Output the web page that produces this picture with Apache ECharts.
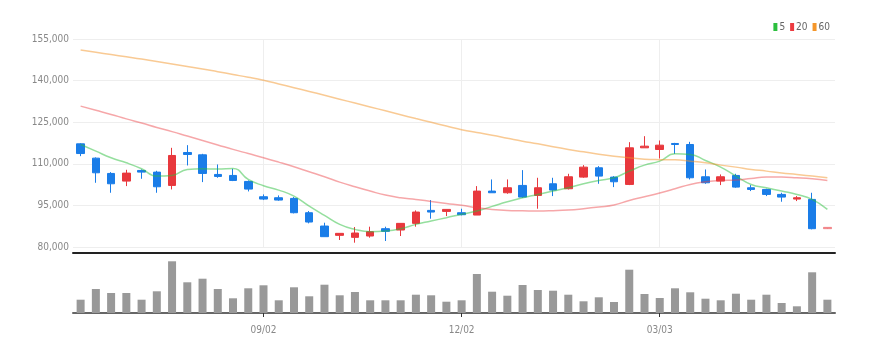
<!DOCTYPE html>
<html>
<head>
<meta charset="utf-8">
<title>stock chart</title>
<script src="https://cdn.jsdelivr.net/npm/echarts@6/dist/echarts.min.js"></script>
<style>
  html, body { margin: 0; padding: 0; background: #fff; }
  #chart { width: 881px; height: 353px; }
</style>
</head>
<body>
<div id="chart"></div>
<script>
// 주간 날짜
var dates = [
  '06/10', '06/17', '06/24', '07/01', '07/08', '07/15', '07/22', '07/29', '08/05', '08/12',
  '08/19', '08/26', '09/02', '09/09', '09/16', '09/23', '09/30', '10/07', '10/14', '10/21',
  '10/28', '11/04', '11/11', '11/18', '11/25', '12/02', '12/09', '12/16', '12/23', '12/30',
  '01/06', '01/13', '01/20', '01/27', '02/03', '02/10', '02/17', '02/24', '03/03', '03/10',
  '03/17', '03/24', '03/31', '04/07', '04/14', '04/21', '04/28', '05/05', '05/12', '05/19'
]

// [시가, 종가, 저가, 고가]
var candles = [
  [117200, 113700, 112760, 117400], [112040, 106760, 103160, 112300], [106520, 102800, 99560, 107000],
  [103760, 106640, 101960, 107840], [107600, 107000, 104600, 107960], [107000, 101720, 99560, 107480],
  [102200, 113000, 100760, 115760], [114080, 113360, 109400, 116720], [113240, 106520, 103400, 113600],
  [106160, 105440, 104960, 109760], [105800, 104000, 103760, 108200], [103640, 100880, 100040, 104000],
  [98120, 97280, 96920, 98960], [97760, 96920, 96680, 98600], [97520, 92360, 92120, 98000],
  [92360, 89000, 88520, 92960], [87560, 83720, 83720, 88760], [84200, 84920, 82520, 84920],
  [83480, 85040, 81560, 87200], [83960, 85520, 83360, 87320], [86600, 85640, 82160, 87320],
  [86120, 88520, 83960, 88520], [88520, 92600, 87320, 93200], [93200, 92600, 90200, 96920],
  [92840, 93560, 91160, 93560], [92360, 91640, 91400, 93800], [91520, 100160, 91520, 101960],
  [100160, 99560, 99560, 104360], [99560, 101360, 99200, 104360], [102200, 98000, 97760, 107720],
  [98600, 101360, 93800, 104960], [102800, 100520, 98360, 104960], [101000, 105320, 100760, 106400],
  [105200, 108800, 104960, 109520], [108560, 105560, 102800, 109160], [105200, 103520, 101600, 105560],
  [102560, 115760, 102320, 117800], [115760, 116360, 115760, 119960], [115160, 116720, 111920, 118400],
  [117320, 116960, 113600, 117560], [116960, 104960, 104360, 117920], [105320, 103160, 102800, 107960],
  [103760, 105320, 102320, 106160], [105800, 101600, 101360, 106400], [101360, 100760, 100160, 102320],
  [100760, 98960, 98360, 101000], [98960, 98000, 96320, 99560], [97280, 97760, 96560, 98360],
  [97160, 86600, 86360, 99560], [86600, 87080, 86480, 87080]
]

// 거래량 (천주)
var volumes = [
  133, 240, 200, 200, 133, 217, 517, 307, 343, 240,
  147, 247, 277, 127, 257, 167, 283, 177, 210, 127,
  127, 127, 183, 177, 113, 127, 390, 213, 173, 280,
  230, 223, 183, 117, 157, 110, 433, 190, 150, 247,
  207, 143, 127, 193, 133, 183, 100, 67, 407, 133
]

// 이동평균선
var ma5 = [
  116960, 114560, 112160, 110360, 108200, 105560, 105800, 107960, 108200, 108080,
  108320, 104360, 102100, 100520, 98360, 94760, 91400, 88160, 86360, 85520,
  85760, 86600, 88160, 89360, 90560, 91800, 92960, 94640, 96320, 97760,
  98960, 100160, 101360, 102800, 104000, 104960, 107360, 109520, 110960, 113600,
  113360, 111200, 108800, 105560, 102560, 101360, 100160, 98960, 97160, 93560
]
var ma20 = [
  130800, 129300, 127800, 126200, 124700, 123100, 121600, 120000, 118400, 116800,
  115200, 113700, 112200, 110600, 108920, 107120, 105320, 103400, 101720, 100160,
  98720, 97760, 97160, 96440, 95720, 95060, 94160, 93560, 93200, 93080,
  92960, 93080, 93320, 93800, 94400, 95120, 96800, 98120, 99500, 101000,
  102560, 103520, 104000, 104120, 104720, 105200, 105200, 104960, 104600, 104000
]
var ma60 = [
  151000, 150200, 149400, 148600, 147800, 146900, 146000, 145100, 144200, 143200,
  142200, 141200, 140100, 138800, 137450, 136100, 134700, 133300, 131900, 130500,
  129100, 127700, 126300, 124950, 123600, 122300, 121280, 120320, 119240, 118160,
  117200, 116120, 115160, 114320, 113480, 112760, 112160, 111680, 111500, 111440,
  110960, 110360, 109520, 108800, 107960, 107360, 106640, 106160, 105560, 104960
]

var fontName = "'Liberation Sans Narrow', 'DejaVu Sans Condensed', 'Liberation Sans', sans-serif"

// 13주마다 라벨
function showTick(index) {
  return index % 13 === 12
}

var chart = echarts.init(document.getElementById('chart'))

var candleData = candles.map(function (item, i) {
  if (i === candles.length - 1) {
    return { value: item, itemStyle: { opacity: 0.45 } }
  }
  return item
})

// 세로 그리드선 (캔들 중앙)
var vLines = []
dates.forEach(function (d, i) {
  if (showTick(i)) vLines.push({ xAxis: d })
})

var options = {
  animation: false,
  legend: {
    right: 46,
    top: 17,
    itemWidth: 4,
    itemHeight: 8,
    itemGap: 5,
    textStyle: { fontSize: 10, color: '#666', fontFamily: fontName, padding: [0, 0, 0, -3] },
    data: [
      { name: '5', icon: 'rect' },
      { name: '20', icon: 'rect' },
      { name: '60', icon: 'rect' }
    ]
  },
  grid: [
    { left: 73, right: 46, top: 39, bottom: 106 },
    { left: 73, right: 46, top: 253, bottom: 40 }
  ],
  xAxis: [
    {
      type: 'category',
      gridIndex: 0,
      data: dates,
      boundaryGap: true,
      offset: 6,
      axisLine: { lineStyle: { color: '#222', width: 2 } },
      axisTick: { show: false },
      axisLabel: { show: false },
      splitLine: { show: false }
    },
    {
      type: 'category',
      gridIndex: 1,
      data: dates,
      boundaryGap: true,
      axisLine: { lineStyle: { color: '#666', width: 2 } },
      axisTick: { show: true, interval: showTick, alignWithLabel: true, length: 4, lineStyle: { color: '#333' } },
      axisLabel: {
        interval: showTick,
        color: '#888',
        fontSize: 10,
        fontFamily: fontName,
        margin: 12
      },
      splitLine: { show: false }
    }
  ],
  yAxis: [
    {
      type: 'value',
      gridIndex: 0,
      min: 80000,
      max: 155000,
      interval: 15000,
      axisLine: { show: false },
      axisTick: { show: false },
      axisLabel: {
        color: '#888',
        fontSize: 10,
        fontFamily: fontName,
        margin: 4,
        formatter: function (v) { return v.toLocaleString('en-US') }
      },
      splitLine: { lineStyle: { color: '#eee' } }
    },
    {
      type: 'value',
      gridIndex: 1,
      min: 0,
      max: 600,
      axisLine: { show: false },
      axisTick: { show: false },
      axisLabel: { show: false },
      splitLine: { show: false }
    }
  ],
  series: [
    {
      name: 'price',
      type: 'candlestick',
      xAxisIndex: 0,
      yAxisIndex: 0,
      barWidth: 8,
      itemStyle: {
        color: '#e8383d',
        color0: '#1a7de8',
        borderColor: '#e8383d',
        borderColor0: '#1a7de8',
        borderWidth: 1
      },
      markLine: {
        silent: true,
        symbol: 'none',
        label: { show: false },
        lineStyle: { color: '#eee', type: 'solid', width: 1 },
        z: 0,
        data: vLines
      },
      data: candleData
    },
    {
      name: '5',
      type: 'line',
      xAxisIndex: 0,
      yAxisIndex: 0,
      showSymbol: false,
      smooth: true,
      color: '#2cbf3e',
      lineStyle: { width: 1.5, opacity: 0.5 },
      data: ma5
    },
    {
      name: '20',
      type: 'line',
      xAxisIndex: 0,
      yAxisIndex: 0,
      showSymbol: false,
      smooth: true,
      color: '#ec3b40',
      lineStyle: { width: 1.5, opacity: 0.45 },
      data: ma20
    },
    {
      name: '60',
      type: 'line',
      xAxisIndex: 0,
      yAxisIndex: 0,
      showSymbol: false,
      smooth: true,
      color: '#f4962a',
      lineStyle: { width: 1.5, opacity: 0.5 },
      data: ma60
    },
    {
      name: 'volume',
      type: 'bar',
      xAxisIndex: 1,
      yAxisIndex: 1,
      barWidth: 8,
      itemStyle: { color: '#999' },
      data: volumes
    }
  ]
}

chart.setOption(options)
</script>
</body>
</html>
